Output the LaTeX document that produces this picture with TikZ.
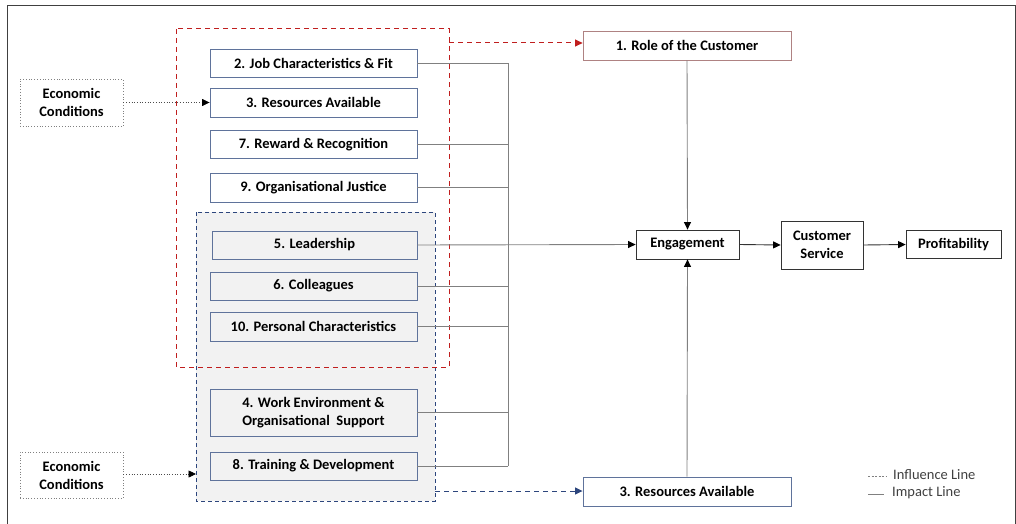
\documentclass[tikz,border=0pt]{standalone}
\usepackage{fontspec}
\setmainfont{Carlito}
\usetikzlibrary{arrows.meta}
\definecolor{boxblue}{RGB}{95,115,155}
\definecolor{boxgray}{RGB}{242,242,242}
\definecolor{redd}{RGB}{192,30,30}
\definecolor{blued}{RGB}{45,70,125}
\definecolor{roleb}{RGB}{175,130,130}
\definecolor{impc}{RGB}{128,128,128}
\begin{document}
\begin{tikzpicture}[x=1pt,y=-1pt,
  font=\bfseries\fontsize{14.5}{18}\selectfont,
  fbox/.style={draw=boxblue, fill=white, line width=0.9pt, minimum width=207pt, minimum height=28pt, inner sep=0pt, align=center},
  gbox/.style={fbox, fill=boxgray},
  pbox/.style={draw=black!80, fill=white, line width=0.8pt, minimum height=28pt, inner sep=0pt, align=center},
  econ/.style={draw=gray, dotted, line width=0.8pt, fill=white, minimum width=103pt, minimum height=47pt, inner sep=0pt, align=center},
  imp/.style={draw=impc, line width=0.9pt},
  arr/.style={-{Triangle[length=7.5pt,width=7pt,color=black]}},
  infarr/.style={-{Triangle[length=7.5pt,width=7pt]}},
  legtext/.style={font=\fontsize{14.5}{16}\selectfont, text=black!75, anchor=west, inner sep=0pt}]
\useasboundingbox (0,0) rectangle (1016,524);
% outer frame
\draw[black!75, line width=1pt] (7,524) -- (7,6) -- (1015,6) -- (1015,524);
% group boxes
\draw[blued, line width=0.9pt, fill=boxgray, dash pattern=on 4pt off 3pt] (196,212) rectangle (435,501);
\draw[redd, line width=1pt, dash pattern=on 5pt off 4pt] (176,29) rectangle (449,367);
\coordinate (redE) at (449,43);
\coordinate (blueE) at (435,491);
\coordinate (blueW) at (196,474);
\coordinate (busx) at (508,0);
% factor boxes
\node[fbox] (job) at (313.5,63) {2. Job Characteristics \& Fit};
\node[fbox, minimum height=29pt] (res) at (313.5,102.5) {3. Resources Available};
\node[fbox] (rew) at (313.5,144.5) {7. Reward \& Recognition};
\node[fbox, minimum height=29pt] (just) at (313.5,187.5) {9. Organisational Justice};
\node[gbox, minimum width=205pt] (lead) at (314.5,245) {5. Leadership};
\node[gbox] (coll) at (313.5,286) {6. Colleagues};
\node[gbox, minimum height=29pt] (pers) at (313.5,326.5) {10. Personal Characteristics};
\node[gbox, minimum height=47pt] (work) at (313.5,412.5) {4. Work Environment \&\\Organisational~ Support};
\node[gbox] (train) at (313.5,466) {8. Training \& Development};
% right side
\node[pbox, draw=roleb, minimum width=208pt, minimum height=29pt] (role) at (687,45.5) {1. Role of the Customer};
\node[fbox, minimum width=208pt, minimum height=29pt] (resb) at (687,491.5) {3. Resources Available};
\node[pbox, minimum width=103pt, minimum height=29pt] (eng) at (687.5,244.5) {Engagement};
\node[pbox, minimum width=82pt, minimum height=48pt] (cs) at (822,245) {Customer\\Service};
\node[pbox, minimum width=95pt] (prof) at (953.5,244.5) {Profitability};
% economic conditions
\node[econ] (econ1) at (71.5,102.5) {Economic\\Conditions};
\node[econ, minimum height=46pt] (econ2) at (71.5,475) {Economic\\Conditions};
% impact lines to bus
\foreach \n in {job,rew,just,coll,pers,work,train}
  \draw[imp] (\n.east) -- (\n.east -| busx);
\draw[imp] (job.east -| busx) -- (train.east -| busx);
\draw[imp, arr] (lead.east) -- (eng.west);
\draw[imp, arr] (role.south) -- (eng.north);
\draw[imp, arr] (resb.north) -- (eng.south);
\draw[black!80, line width=0.9pt, arr] (eng.east) -- (cs.west);
\draw[black!80, line width=0.9pt, arr] (cs.east) -- (prof.west);
% influence lines
\draw[redd, line width=1pt, dash pattern=on 5pt off 4pt, infarr] (redE) -- (role.west |- redE);
\draw[blued, line width=1pt, dash pattern=on 5pt off 4pt, infarr] (blueE) -- (resb.west |- blueE);
\draw[black!70, line width=0.7pt, dotted, arr] (econ1.east) -- (res.west);
\draw[black!70, line width=0.7pt, dotted, arr] (econ2.east |- blueW) -- (blueW);
% legend
\coordinate (l1a) at (868,476);
\coordinate (l1b) at (887,476);
\coordinate (l2a) at (868,494);
\coordinate (l2b) at (884,494);
\draw[gray, line width=0.7pt, dash pattern=on 2pt off 1.5pt] (l1a) -- (l1b);
\draw[gray, line width=1pt] (l2a) -- (l2b);
\node[legtext] (leg1) at (893,475) {Influence Line};
\node[legtext] (leg2) at (892,493) {Impact Line};
\end{tikzpicture}
\end{document}
